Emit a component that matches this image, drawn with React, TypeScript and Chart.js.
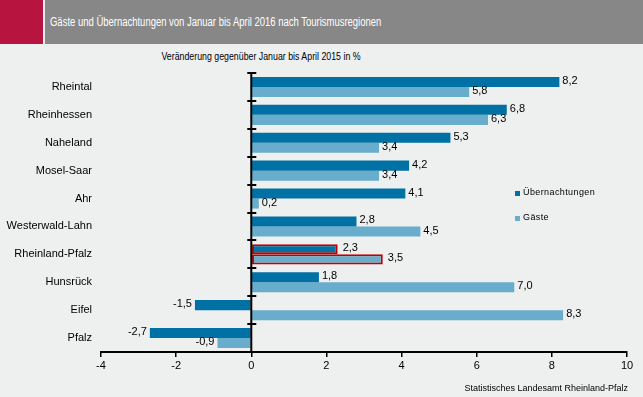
import React, { useEffect, useRef } from "react";
import { Chart, registerables } from "chart.js";

Chart.register(...registerables);

const regions = [
  "Rheintal",
  "Rheinhessen",
  "Naheland",
  "Mosel-Saar",
  "Ahr",
  "Westerwald-Lahn",
  "Rheinland-Pfalz",
  "Hunsrück",
  "Eifel",
  "Pfalz",
];
const uebernachtungen = [8.2, 6.8, 5.3, 4.2, 4.1, 2.8, 2.3, 1.8, -1.5, -2.7];
const gaeste = [5.8, 6.3, 3.4, 3.4, 0.2, 4.5, 3.5, 7.0, 8.3, -0.9];
const xTicks = [-4, -2, 0, 2, 4, 6, 8, 10];
const highlightRegion = "Rheinland-Pfalz";

const title = "Gäste und Übernachtungen von Januar bis April 2016 nach Tourismusregionen";
const subtitle = "Veränderung gegenüber Januar bis April 2015 in %";
const source = "Statistisches Landesamt Rheinland-Pfalz";

const DARK = "#0071a4";
const LIGHT = "#68adcb";
const BG = "#eef0ef";
const FONT = "'Liberation Sans', Arial, sans-serif";

const fmt = (v: number) => v.toFixed(1).replace(".", ",");

const axisPlugin = {
  id: "zeroAxis",
  afterDatasetsDraw(chart: any) {
    const { ctx, chartArea, scales } = chart;
    const x0 = scales.x.getPixelForValue(0);
    const n = regions.length;
    const h = (chartArea.bottom - chartArea.top) / n;
    ctx.save();
    ctx.strokeStyle = "#000";
    ctx.lineWidth = 2;
    ctx.beginPath();
    ctx.moveTo(x0, chartArea.top);
    ctx.lineTo(x0, chartArea.bottom);
    ctx.stroke();
    for (let i = 0; i < n; i++) {
      const y = Math.round(chartArea.top + i * h);
      ctx.beginPath();
      ctx.moveTo(x0 - 4, y);
      ctx.lineTo(x0 + 5, y);
      ctx.stroke();
    }
    // data labels
    ctx.fillStyle = "#000";
    ctx.font = `11px ${FONT}`;
    ctx.textBaseline = "middle";
    chart.data.datasets.forEach((ds: any, di: number) => {
      const meta = chart.getDatasetMeta(di);
      meta.data.forEach((el: any, i: number) => {
        const v = ds.data[i];
        const extra = regions[i] === highlightRegion ? 2 : 0;
        if (v >= 0) {
          ctx.textAlign = "left";
          ctx.fillText(fmt(v), el.x + 3 + extra, el.y - 1);
        } else {
          ctx.textAlign = "right";
          ctx.fillText(fmt(v), el.x - 3, el.y - 1);
        }
      });
    });
    ctx.restore();
  },
};

export default function App() {
  const ref = useRef<HTMLCanvasElement>(null);
  useEffect(() => {
    if (!ref.current) return;
    const borderColors = regions.map((r) => (r === highlightRegion ? "#c00000" : "rgba(0,0,0,0)"));
    const borderWidths = regions.map((r) => (r === highlightRegion ? 2 : 0));
    const chart = new Chart(ref.current, {
      type: "bar",
      data: {
        labels: regions,
        datasets: [
          {
            label: "Übernachtungen",
            data: uebernachtungen,
            backgroundColor: DARK,
            borderColor: borderColors,
            borderWidth: borderWidths,
            borderSkipped: false,
            categoryPercentage: 0.72,
            barPercentage: 1,
          },
          {
            label: "Gäste",
            data: gaeste,
            backgroundColor: LIGHT,
            borderColor: borderColors,
            borderWidth: borderWidths,
            borderSkipped: false,
            categoryPercentage: 0.72,
            barPercentage: 1,
          },
        ],
      },
      options: {
        indexAxis: "y",
        animation: false,
        responsive: false,
        maintainAspectRatio: false,
        layout: { padding: { top: 29, right: 16, left: 0, bottom: 0 } },
        plugins: {
          legend: { display: false },
          tooltip: { enabled: false },
          title: { display: false },
        },
        scales: {
          x: {
            type: "linear",
            min: -4,
            max: 10,
            afterBuildTicks: (scale: any) => {
              scale.ticks = xTicks.map((v) => ({ value: v }));
            },
            afterFit: (scale: any) => {
              scale.height = 45;
            },
            border: { display: true, color: "#000", width: 2 },
            grid: {
              display: true,
              drawOnChartArea: false,
              drawTicks: true,
              tickLength: 5,
              color: "#000",
              lineWidth: 1.5,
            },
            ticks: {
              color: "#000",
              font: { family: FONT, size: 11 },
              padding: 2,
              callback: (v: any) => String(v),
            },
          },
          y: {
            type: "category",
            afterFit: (scale: any) => {
              scale.width = 101;
            },
            border: { display: false },
            grid: { display: false },
            ticks: {
              color: "#000",
              font: { family: FONT, size: 11 },
              padding: 1,
            },
          },
        },
      },
      plugins: [axisPlugin],
    } as any);
    return () => chart.destroy();
  }, []);

  return (
    <div
      style={{
        position: "fixed",
        left: 0,
        top: 0,
        width: 643,
        height: 397,
        background: BG,
        fontFamily: FONT,
        overflow: "hidden",
      }}
    >
      <div style={{ position: "absolute", left: 0, top: 0, width: 43, height: 44, background: "#b71540" }} />
      <div style={{ position: "absolute", left: 45, top: 0, width: 598, height: 44, background: "#878787" }} />
      <div
        style={{
          position: "absolute",
          left: 50,
          top: 15,
          color: "#fff",
          fontSize: 12,
          whiteSpace: "nowrap",
          transform: "scaleX(0.79)",
          transformOrigin: "left center",
        }}
      >
        {title}
      </div>
      <div
        style={{
          position: "absolute",
          left: 0,
          top: 50,
          width: 522,
          textAlign: "center",
          color: "#000",
          fontSize: 11,
          whiteSpace: "nowrap",
          transform: "scaleX(0.8)",
          transformOrigin: "center center",
        }}
      >
        {subtitle}
      </div>
      <canvas
        ref={ref}
        width={643}
        height={353}
        style={{ position: "absolute", left: 0, top: 44, width: 643, height: 353 }}
      />
      <div style={{ position: "absolute", left: 515, top: 191, width: 5, height: 5, background: DARK }} />
      <div style={{ position: "absolute", left: 523, top: 187, fontSize: 9, letterSpacing: 0.4, color: "#000", whiteSpace: "nowrap" }}>
        Übernachtungen
      </div>
      <div style={{ position: "absolute", left: 515, top: 216, width: 5, height: 5, background: LIGHT }} />
      <div style={{ position: "absolute", left: 523, top: 212, fontSize: 9, letterSpacing: 0.4, color: "#000", whiteSpace: "nowrap" }}>
        Gäste
      </div>
      <div
        style={{
          position: "absolute",
          right: 15,
          top: 383,
          fontSize: 9,
          color: "#000",
          whiteSpace: "nowrap",
        }}
      >
        {source}
      </div>
    </div>
  );
}
